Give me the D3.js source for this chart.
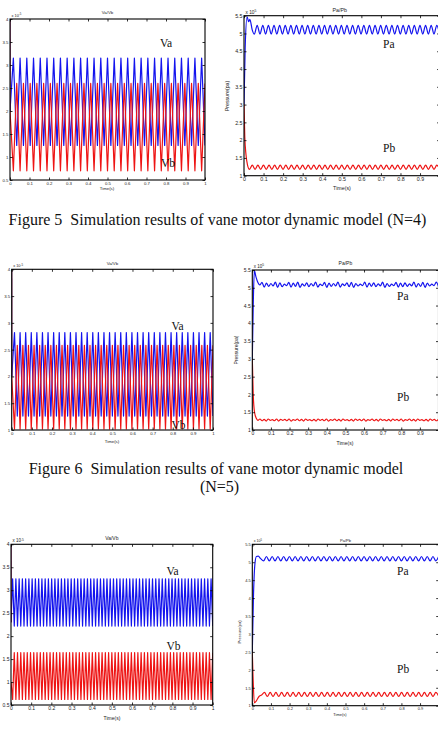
<!DOCTYPE html>
<html>
<head>
<meta charset="utf-8">
<script src="https://cdn.jsdelivr.net/npm/d3@7"></script>
<style>
  body { margin: 0; background: #fff; }
  svg { display: block; }
  .ax text, .small { font-family: "Liberation Sans", Arial, sans-serif; }
  .serif { font-family: "Liberation Serif", "Times New Roman", serif; }
</style>
</head>
<body>
<svg id="fig" width="438" height="734"></svg>
<script>
// tick labels
const timeTicks = [0, 0.1, 0.2, 0.3, 0.4, 0.5, 0.6, 0.7, 0.8, 0.9, 1];
const volTicksA = [0.5, 1, 1.5, 2, 2.5, 3, 3.5, 4];
const volTicksB = [1, 1.5, 2, 2.5, 3, 3.5, 4];
const presTicks = [1, 1.5, 2, 2.5, 3, 3.5, 4, 4.5, 5, 5.5];

// chamber volumes (x 1e-5), turning points, evenly spread over 0..1 s
const vaN4 = [2.0,
  3.15, 1.25, 3.15, 1.25, 3.15, 1.25, 3.15, 1.25, 3.15, 1.25,
  3.15, 1.25, 3.15, 1.25, 3.15, 1.25, 3.15, 1.25, 3.15, 1.25,
  3.15, 1.25, 3.15, 1.25, 3.15, 1.25, 3.15, 1.25, 3.15, 1.25,
  3.15, 1.25, 3.15, 1.25, 3.15, 1.25, 3.15, 1.25, 3.15, 1.25,
  3.15, 1.25, 3.15, 1.25, 3.15, 1.25, 3.15, 1.25, 3.15, 1.25,
  3.15, 1.25, 3.15, 1.25, 3.15, 1.25, 3.15, 1.25];
const vbN4 = [2.0,
  0.7, 2.6, 0.7, 2.6, 0.7, 2.6, 0.7, 2.6, 0.7, 2.6,
  0.7, 2.6, 0.7, 2.6, 0.7, 2.6, 0.7, 2.6, 0.7, 2.6,
  0.7, 2.6, 0.7, 2.6, 0.7, 2.6, 0.7, 2.6, 0.7, 2.6,
  0.7, 2.6, 0.7, 2.6, 0.7, 2.6, 0.7, 2.6, 0.7, 2.6,
  0.7, 2.6, 0.7, 2.6, 0.7, 2.6, 0.7, 2.6, 0.7, 2.6,
  0.7, 2.6, 0.7, 2.6, 0.7, 2.6, 0.7, 2.6];
const vaN5 = [2.0,
  2.82, 1.26, 2.82, 1.26, 2.82, 1.26, 2.82, 1.26, 2.82, 1.26,
  2.82, 1.26, 2.82, 1.26, 2.82, 1.26, 2.82, 1.26, 2.82, 1.26,
  2.82, 1.26, 2.82, 1.26, 2.82, 1.26, 2.82, 1.26, 2.82, 1.26,
  2.82, 1.26, 2.82, 1.26, 2.82, 1.26, 2.82, 1.26, 2.82, 1.26,
  2.82, 1.26, 2.82, 1.26, 2.82, 1.26, 2.82, 1.26, 2.82, 1.26,
  2.82, 1.26, 2.82, 1.26, 2.82, 1.26, 2.82, 1.26, 2.82, 1.26,
  2.82, 1.26, 2.82, 1.26, 2.82, 1.26, 2.82, 1.26, 2.82, 1.26,
  2.82, 1.26];
const vbN5 = [2.0,
  1.02, 2.58, 1.02, 2.58, 1.02, 2.58, 1.02, 2.58, 1.02, 2.58,
  1.02, 2.58, 1.02, 2.58, 1.02, 2.58, 1.02, 2.58, 1.02, 2.58,
  1.02, 2.58, 1.02, 2.58, 1.02, 2.58, 1.02, 2.58, 1.02, 2.58,
  1.02, 2.58, 1.02, 2.58, 1.02, 2.58, 1.02, 2.58, 1.02, 2.58,
  1.02, 2.58, 1.02, 2.58, 1.02, 2.58, 1.02, 2.58, 1.02, 2.58,
  1.02, 2.58, 1.02, 2.58, 1.02, 2.58, 1.02, 2.58, 1.02, 2.58,
  1.02, 2.58, 1.02, 2.58, 1.02, 2.58, 1.02, 2.58, 1.02, 2.58,
  1.02, 2.58];
const vaN6 = [2.3,
  3.25, 2.22, 3.25, 2.22, 3.25, 2.22, 3.25, 2.22, 3.25, 2.22,
  3.25, 2.22, 3.25, 2.22, 3.25, 2.22, 3.25, 2.22, 3.25, 2.22,
  3.25, 2.22, 3.25, 2.22, 3.25, 2.22, 3.25, 2.22, 3.25, 2.22,
  3.25, 2.22, 3.25, 2.22, 3.25, 2.22, 3.25, 2.22, 3.25, 2.22,
  3.25, 2.22, 3.25, 2.22, 3.25, 2.22, 3.25, 2.22, 3.25, 2.22,
  3.25, 2.22, 3.25, 2.22, 3.25, 2.22, 3.25, 2.22, 3.25, 2.22,
  3.25, 2.22, 3.25, 2.22, 3.25, 2.22, 3.25, 2.22, 3.25, 2.22,
  3.25, 2.22, 3.25, 2.22, 3.25, 2.22, 3.25, 2.22, 3.25, 2.22,
  3.25, 2.22, 3.25, 2.22, 3.25, 2.22, 3.25, 2.22, 3.25, 2.22,
  3.25, 2.22, 3.25, 2.22, 3.25, 2.22, 3.25, 2.22, 3.25, 2.22,
  3.25, 2.22, 3.25, 2.22, 3.25, 2.22, 3.25, 2.22, 3.25, 2.22,
  3.25, 2.22, 3.25, 2.22, 3.25, 2.22, 3.25, 2.22, 3.25, 2.22,
  3.25, 2.22, 3.25, 2.22];
const vbN6 = [1.0,
  0.62, 1.64, 0.62, 1.64, 0.62, 1.64, 0.62, 1.64, 0.62, 1.64,
  0.62, 1.64, 0.62, 1.64, 0.62, 1.64, 0.62, 1.64, 0.62, 1.64,
  0.62, 1.64, 0.62, 1.64, 0.62, 1.64, 0.62, 1.64, 0.62, 1.64,
  0.62, 1.64, 0.62, 1.64, 0.62, 1.64, 0.62, 1.64, 0.62, 1.64,
  0.62, 1.64, 0.62, 1.64, 0.62, 1.64, 0.62, 1.64, 0.62, 1.64,
  0.62, 1.64, 0.62, 1.64, 0.62, 1.64, 0.62, 1.64, 0.62, 1.64,
  0.62, 1.64, 0.62, 1.64, 0.62, 1.64, 0.62, 1.64, 0.62, 1.64,
  0.62, 1.64, 0.62, 1.64, 0.62, 1.64, 0.62, 1.64, 0.62, 1.64,
  0.62, 1.64, 0.62, 1.64, 0.62, 1.64, 0.62, 1.64, 0.62, 1.64,
  0.62, 1.64, 0.62, 1.64, 0.62, 1.64, 0.62, 1.64, 0.62, 1.64,
  0.62, 1.64, 0.62, 1.64, 0.62, 1.64, 0.62, 1.64, 0.62, 1.64,
  0.62, 1.64, 0.62, 1.64, 0.62, 1.64, 0.62, 1.64, 0.62, 1.64,
  0.62, 1.64, 0.62, 1.64];
// initial value at t = 0 (vertical jump on the left edge)
const spikeN4 = [[0, 4.0], [0.0005, 2.0]];
const spikeN5 = [[0, 4.0], [0.0005, 2.0]];
const spikeN6 = [[0, 4.0], [0.0005, 2.3]];

// chamber pressures (x 1e5): start-up [t, p], then ripple turning points up to 1 s
const paN4Start = [[0, 3.0], [0.006, 4.6], [0.016, 5.47], [0.024, 5.33], [0.03, 5.4], [0.042, 5.1]];
const paN4Ripple = [4.98,
  5.23, 4.98, 5.23, 4.98, 5.23, 4.98, 5.23, 4.98, 5.23, 4.98,
  5.23, 4.98, 5.23, 4.98, 5.23, 4.98, 5.23, 4.98, 5.23, 4.98,
  5.23, 4.98, 5.23, 4.98, 5.23, 4.98, 5.23, 4.98, 5.23, 4.98,
  5.23, 4.98, 5.23, 4.98, 5.23, 4.98, 5.23, 4.98, 5.23, 4.98,
  5.23, 4.98, 5.23, 4.98, 5.23, 4.98, 5.23, 4.98, 5.23, 4.98,
  5.23, 4.98, 5.23, 4.98, 5.23, 4.98, 5.23, 4.98, 5.23, 4.98,
  5.23, 4.98, 5.23, 4.98, 5.23, 4.98];
const pbN4Start = [[0, 3.0], [0.004, 2.1], [0.01, 1.6], [0.018, 1.3]];
const pbN4Ripple = [1.18,
  1.3, 1.18, 1.3, 1.18, 1.3, 1.18, 1.3, 1.18, 1.3, 1.18,
  1.3, 1.18, 1.3, 1.18, 1.3, 1.18, 1.3, 1.18, 1.3, 1.18,
  1.3, 1.18, 1.3, 1.18, 1.3, 1.18, 1.3, 1.18, 1.3, 1.18,
  1.3, 1.18, 1.3, 1.18, 1.3, 1.18, 1.3, 1.18, 1.3, 1.18,
  1.3, 1.18, 1.3, 1.18, 1.3, 1.18, 1.3, 1.18, 1.3, 1.18,
  1.3, 1.18, 1.3, 1.18, 1.3, 1.18, 1.3, 1.18, 1.3, 1.18,
  1.3, 1.18, 1.3, 1.18, 1.3, 1.18, 1.3, 1.18];

const paN5Start = [[0, 3.0], [0.005, 4.5], [0.011, 5.48], [0.02, 5.3], [0.03, 5.15]];
const paN5Ripple = [5.08,
  5.15, 5.02, 5.13, 5.04, 5.12, 5.05, 5.16, 5.01, 5.14, 5.03,
  5.10, 5.06, 5.15, 5.02, 5.13, 5.04, 5.16, 5.01, 5.11, 5.05,
  5.14, 5.03, 5.12, 5.05, 5.16, 5.02, 5.10, 5.06, 5.15, 5.01,
  5.13, 5.04, 5.12, 5.05, 5.16, 5.02, 5.11, 5.06, 5.14, 5.03,
  5.15, 5.01, 5.12, 5.05, 5.10, 5.06, 5.16, 5.02, 5.13, 5.04,
  5.14, 5.03, 5.11, 5.05, 5.16, 5.01, 5.12, 5.04, 5.10, 5.06,
  5.15, 5.02, 5.13, 5.03, 5.14, 5.04, 5.11, 5.05, 5.16, 5.02,
  5.12, 5.04, 5.15, 5.01, 5.13, 5.05, 5.10, 5.06, 5.16, 5.03];
const pbN5Start = [[0, 3.0], [0.005, 2.0], [0.012, 1.5], [0.022, 1.32]];
const pbN5Ripple = [1.27,
  1.31, 1.26, 1.30, 1.25, 1.31, 1.27, 1.29, 1.26, 1.31, 1.25,
  1.30, 1.27, 1.30, 1.26, 1.31, 1.25, 1.29, 1.27, 1.31, 1.26,
  1.30, 1.25, 1.31, 1.27, 1.29, 1.26, 1.30, 1.25, 1.31, 1.27,
  1.30, 1.26, 1.31, 1.25, 1.29, 1.27, 1.31, 1.26, 1.30, 1.25,
  1.31, 1.27, 1.29, 1.26, 1.30, 1.25, 1.31, 1.27, 1.30, 1.26,
  1.31, 1.25, 1.29, 1.27, 1.31, 1.26, 1.30, 1.25, 1.31, 1.27,
  1.29, 1.26, 1.30, 1.25, 1.31, 1.27, 1.30, 1.26, 1.31, 1.25,
  1.29, 1.27, 1.31, 1.26, 1.30, 1.25, 1.31, 1.27, 1.29, 1.26,
  1.30, 1.25, 1.31, 1.27, 1.30, 1.26, 1.31];

const paN6Start = [[0, 2.5], [0.006, 4.0], [0.014, 4.95], [0.022, 5.16], [0.032, 5.17]];
const paN6Ripple = [5.1,
  5.04, 5.16, 5.04, 5.16, 5.04, 5.16, 5.04, 5.16, 5.04, 5.16,
  5.04, 5.16, 5.04, 5.16, 5.04, 5.16, 5.04, 5.16, 5.04, 5.16,
  5.04, 5.16, 5.04, 5.16, 5.04, 5.16, 5.04, 5.16, 5.04, 5.16,
  5.04, 5.16, 5.04, 5.16, 5.04, 5.16, 5.04, 5.16, 5.04, 5.16,
  5.04, 5.16, 5.04, 5.16, 5.04, 5.16, 5.04, 5.16, 5.04, 5.16,
  5.04, 5.16, 5.04, 5.16, 5.04, 5.16, 5.04, 5.16, 5.04, 5.16,
  5.04, 5.16];
const pbN6Start = [[0, 2.5], [0.004, 1.8], [0.011, 1.08], [0.02, 1.12], [0.035, 1.25]];
const pbN6Ripple = [1.3,
  1.37, 1.26, 1.37, 1.26, 1.37, 1.26, 1.37, 1.26, 1.37, 1.26,
  1.37, 1.26, 1.37, 1.26, 1.37, 1.26, 1.37, 1.26, 1.37, 1.26,
  1.37, 1.26, 1.37, 1.26, 1.37, 1.26, 1.37, 1.26, 1.37, 1.26,
  1.37, 1.26, 1.37, 1.26, 1.37, 1.26, 1.37, 1.26, 1.37, 1.26,
  1.37, 1.26, 1.37, 1.26, 1.37, 1.26, 1.37, 1.26, 1.37, 1.26,
  1.37, 1.26, 1.37, 1.26, 1.37, 1.26, 1.37, 1.26, 1.37, 1.26,
  1.37, 1.26];

const BLUE = '#1414ee';
const RED = '#ee1414';

const svg = d3.select('#fig');

function toPoints(start, values, from) {
  const t = d3.scaleLinear().domain([0, values.length - 1]).range([from, 1]);
  return start.concat(values.map((v, i) => [t(i), v]));
}

function panel(cfg) {
  const x = d3.scaleLinear().domain([0, 1]).range([cfg.left, cfg.right]);
  const y = d3.scaleLinear().domain(cfg.yDomain).range([cfg.bottom, cfg.top]);
  const g = svg.append('g');
  const clipId = 'clip-' + cfg.id;

  g.append('clipPath').attr('id', clipId)
    .append('rect')
    .attr('x', cfg.left).attr('y', cfg.top)
    .attr('width', cfg.right - cfg.left).attr('height', cfg.bottom - cfg.top);

  const line = d3.line()
    .x((d) => x(d[0]))
    .y((d) => y(d[1]))
    .curve(cfg.curve);

  const plot = g.append('g').attr('clip-path', `url(#${clipId})`);
  cfg.series.forEach((s) => {
    plot.append('path')
      .attr('d', line(s.points))
      .attr('fill', 'none')
      .attr('stroke', s.color)
      .attr('stroke-width', s.width || 1.2)
      .attr('stroke-linejoin', 'round');
  });

  const fs = cfg.fontSize;
  const tk = 2.5;
  // the right-hand panels run past the page edge, so their "1" label is not shown
  const xFormat = (d) => (cfg.cutRight && d === 1 ? '' : String(d));

  const bottom = g.append('g').attr('class', 'ax')
    .attr('transform', `translate(0,${cfg.bottom})`)
    .call(d3.axisBottom(x).tickValues(timeTicks).tickSize(-tk).tickPadding(1.5).tickFormat(xFormat));
  const top = g.append('g').attr('class', 'ax')
    .attr('transform', `translate(0,${cfg.top})`)
    .call(d3.axisTop(x).tickValues(timeTicks).tickSize(-tk).tickFormat(''));
  const left = g.append('g').attr('class', 'ax')
    .attr('transform', `translate(${cfg.left},0)`)
    .call(d3.axisLeft(y).tickValues(cfg.yTicks).tickSize(-tk).tickPadding(1.5).tickFormat(String));
  const right = g.append('g').attr('class', 'ax')
    .attr('transform', `translate(${cfg.right},0)`)
    .call(d3.axisRight(y).tickValues(cfg.yTicks).tickSize(-tk).tickFormat(''));

  [bottom, top, left, right].forEach((a) => {
    a.select('.domain').remove();
    a.selectAll('line').attr('stroke', '#000').attr('stroke-width', 0.8);
    a.selectAll('text').attr('font-size', fs).attr('fill', '#222');
  });

  g.append('rect')
    .attr('x', cfg.left).attr('y', cfg.top)
    .attr('width', cfg.right - cfg.left).attr('height', cfg.bottom - cfg.top)
    .attr('fill', 'none').attr('stroke', '#000').attr('stroke-width', 1.1);

  g.append('text').attr('class', 'small')
    .attr('x', (cfg.left + cfg.right) / 2 - (cfg.titleShift || 0)).attr('y', cfg.titleY)
    .attr('text-anchor', 'middle').attr('font-size', fs).attr('fill', '#222')
    .text(cfg.title);

  const ex = g.append('text').attr('class', 'small')
    .attr('x', cfg.left + 1.5).attr('y', cfg.top - 2)
    .attr('font-size', fs * 0.9).attr('fill', '#222');
  ex.append('tspan').text('x 10');
  ex.append('tspan').attr('dy', -fs * 0.35).attr('font-size', fs * 0.65).text(cfg.exponent);

  g.append('text').attr('class', 'small')
    .attr('x', cfg.xLabelX).attr('y', cfg.xLabelY)
    .attr('text-anchor', 'middle').attr('font-size', fs).attr('fill', '#222')
    .text('Time(s)');

  if (cfg.yLabel) {
    g.append('text').attr('class', 'small')
      .attr('transform', `translate(${cfg.yLabel[0]},${cfg.yLabel[1]}) rotate(-90)`)
      .attr('text-anchor', 'middle').attr('font-size', fs).attr('fill', '#222')
      .text('Pressure(pa)');
  }

  cfg.labels.forEach((l) => {
    g.append('text').attr('class', 'serif')
      .attr('x', l[1]).attr('y', l[2])
      .attr('font-size', 11.5).attr('fill', '#111')
      .text(l[0]);
  });
}

function volumeSeries(va, vb, spike) {
  return [
    { color: BLUE, points: toPoints([], va, 0) },
    { color: RED, points: toPoints([], vb, 0) },
    { color: '#7a1a5a', width: 1.4, points: spike }
  ];
}

panel({
  id: 'v4', left: 10, right: 205, top: 19, bottom: 180,
  yDomain: [0.5, 4], yTicks: volTicksA, curve: d3.curveLinear, fontSize: 4.3,
  title: 'Va/Vb', titleY: 14, exponent: '-5', xLabelX: 107, xLabelY: 190,
  series: volumeSeries(vaN4, vbN4, spikeN4),
  labels: [['Va', 160, 47], ['Vb', 161, 167]]
});

panel({
  id: 'p4', left: 244, right: 439.6, top: 15.7, bottom: 175.7, cutRight: true,
  yDomain: [1, 5.5], yTicks: presTicks, curve: d3.curveMonotoneX, fontSize: 5.3,
  title: 'Pa/Pb', titleY: 11.5, titleShift: 2, exponent: '5', xLabelX: 342, xLabelY: 190,
  yLabel: [229, 96],
  series: [
    { color: BLUE, points: toPoints(paN4Start, paN4Ripple, 0.053) },
    { color: RED, points: toPoints(pbN4Start, pbN4Ripple, 0.028) }
  ],
  labels: [['Pa', 383, 47.5], ['Pb', 383, 152]]
});

panel({
  id: 'v5', left: 11.7, right: 213, top: 269.3, bottom: 430,
  yDomain: [1, 4], yTicks: volTicksB, curve: d3.curveLinear, fontSize: 4.3,
  title: 'Va/Vb', titleY: 264.5, exponent: '-5', xLabelX: 112, xLabelY: 443,
  series: volumeSeries(vaN5, vbN5, spikeN5),
  labels: [['Va', 171.5, 329.5], ['Vb', 171.5, 428.5]]
});

panel({
  id: 'p5', left: 252.3, right: 438.5, top: 270, bottom: 430, cutRight: true,
  yDomain: [1, 5.5], yTicks: presTicks, curve: d3.curveMonotoneX, fontSize: 5,
  title: 'Pa/Pb', titleY: 265, exponent: '5', xLabelX: 345, xLabelY: 445,
  yLabel: [237.5, 350],
  series: [
    { color: BLUE, points: toPoints(paN5Start, paN5Ripple, 0.04) },
    { color: RED, points: toPoints(pbN5Start, pbN5Ripple, 0.03) }
  ],
  labels: [['Pa', 397, 299.5], ['Pb', 397, 401]]
});

panel({
  id: 'v6', left: 11, right: 212.7, top: 544.3, bottom: 705,
  yDomain: [0.5, 4], yTicks: volTicksA, curve: d3.curveLinear, fontSize: 5,
  title: 'Va/Vb', titleY: 539.5, exponent: '-5', xLabelX: 112, xLabelY: 719.5,
  series: volumeSeries(vaN6, vbN6, spikeN6),
  labels: [['Va', 166.5, 575], ['Vb', 166.5, 650]]
});

panel({
  id: 'p6', left: 252.3, right: 438.7, top: 544.3, bottom: 705.7, cutRight: true,
  yDomain: [1, 5.5], yTicks: presTicks, curve: d3.curveMonotoneX, fontSize: 4,
  title: 'Pa/Pb', titleY: 541.5, exponent: '5', xLabelX: 340, xLabelY: 715.5,
  yLabel: [240.5, 632],
  series: [
    { color: BLUE, points: toPoints(paN6Start, paN6Ripple, 0.045) },
    { color: RED, points: toPoints(pbN6Start, pbN6Ripple, 0.05) }
  ],
  labels: [['Pa', 397, 575], ['Pb', 397, 673]]
});

// captions
const captions = [
  ['Figure 5  Simulation results of vane motor dynamic model (N=4)', 217.5, 225],
  ['Figure 6  Simulation results of vane motor dynamic model', 216, 474],
  ['(N=5)', 219.5, 492]
];
svg.selectAll('text.caption').data(captions).enter()
  .append('text').attr('class', 'caption serif')
  .attr('x', (d) => d[1]).attr('y', (d) => d[2])
  .attr('text-anchor', 'middle').attr('font-size', 16).attr('fill', '#111')
  .style('white-space', 'pre')
  .text((d) => d[0]);
</script>
</body>
</html>
